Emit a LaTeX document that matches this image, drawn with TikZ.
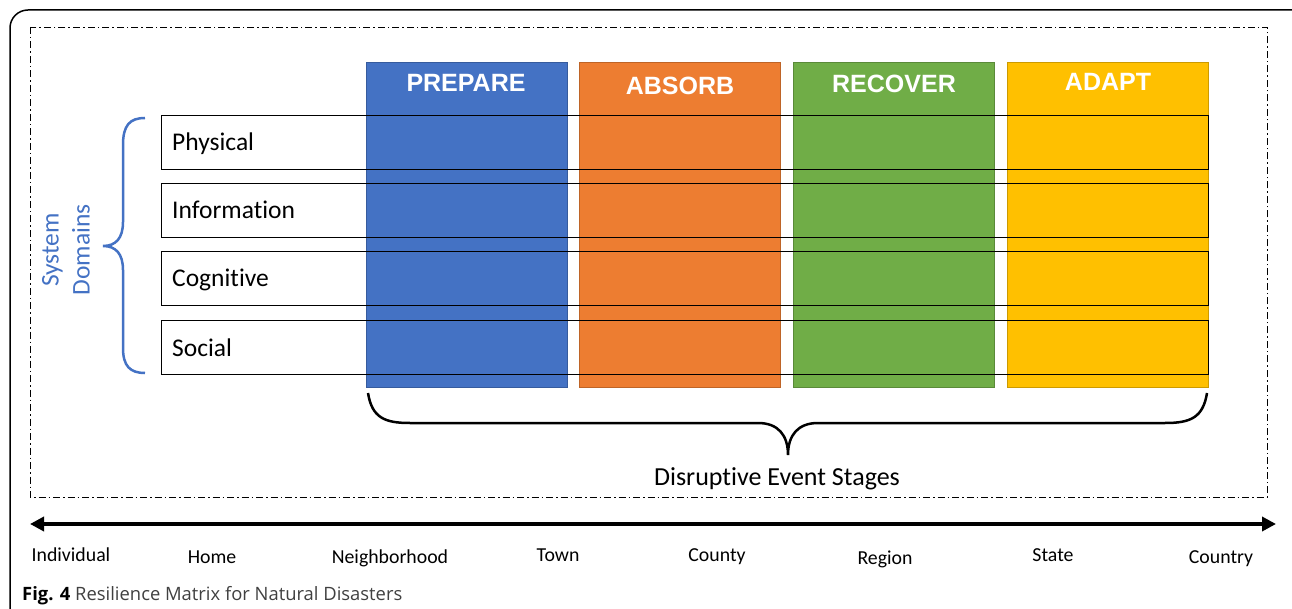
\documentclass[tikz,border=0pt]{standalone}
\usepackage{fontspec}
\setmainfont{Carlito}[Ligatures=NoCommon]
\newfontfamily\headfont{Liberation Sans}
\newfontfamily\capfont{Open Sans}
\usetikzlibrary{arrows.meta}
\definecolor{prepblue}{HTML}{4472C4}
\definecolor{absorange}{HTML}{ED7D31}
\definecolor{recgreen}{HTML}{70AD47}
\definecolor{adaptgold}{HTML}{FFC000}
\tikzset{
  stagebox/.style={draw=#1!80!black, fill=#1, minimum width=201pt, minimum height=325pt, anchor=north west, inner sep=0pt},
  stagename/.style={text=white, inner sep=0pt, font=\headfont\bfseries\fontsize{25}{30}\selectfont},
  domainrow/.style={draw, line width=1.2pt, minimum width=1047pt, minimum height=54pt, anchor=north west, inner sep=0pt},
  domainname/.style={anchor=base west, inner sep=0pt, font=\fontsize{25.5}{30}\selectfont},
  levelname/.style={anchor=base, inner sep=0pt, font=\fontsize{19.8}{23}\selectfont},
}
\begin{document}
\begin{tikzpicture}[x=1pt, y=-1pt]
    \clip (0,0) rectangle (1292,609);
    \draw[line width=1.5pt, rounded corners=18pt] (10,10) rectangle (1310,640);
    \draw[line width=0.9pt, dash pattern=on 7pt off 3pt on 1.5pt off 3pt] (30,27) rectangle (1267,497);

    \node[stagebox=prepblue] (prepare) at (366,62) {};
    \node[stagebox=absorange] (absorb) at (579,62) {};
    \node[stagebox=recgreen] (recover) at (793,62) {};
    \node[stagebox=adaptgold] (adapt) at (1007,62) {};
    \node[stagename] at (466,83) {PREPARE};
    \node[stagename] at (680,86) {ABSORB};
    \node[stagename] at (894,84) {RECOVER};
    \node[stagename] at (1108,82) {ADAPT};

    \node[domainrow] (physical) at (161,115) {};
    \node[domainrow] (information) at (161,183) {};
    \node[domainrow] (cognitive) at (161,251) {};
    \node[domainrow] (social) at (161,320) {};
    \node[domainname] at (172,151) {Physical};
    \node[domainname] at (172,219) {Information};
    \node[domainname] at (172,287) {Cognitive};
    \node[domainname] at (172,356) {Social};

    \draw[prepblue, line width=2.5pt] (145,118) .. controls (130,118) and (123,125) .. (123,145) -- (123,222)
        .. controls (123,238) and (116,246) .. (103,246) .. controls (116,246) and (123,254) .. (123,270)
        -- (123,348) .. controls (123,366) and (130,373) .. (145,373);
    \node[rotate=90, align=center, text=prepblue, inner sep=0pt, font=\fontsize{25.5}{31}\selectfont] (domains) at (66,250) {System\\Domains};

    \draw[line width=2.5pt] (368,393) .. controls (372,418) and (385,423) .. (410,423) -- (758,423)
        .. controls (778,423) and (788,435) .. (788,455) .. controls (788,435) and (798,423) .. (818,423)
        -- (1165,423) .. controls (1190,423) and (1203,418) .. (1207,393);
    \node[anchor=base, inner sep=0pt, font=\fontsize{26}{30}\selectfont] (stages) at (777,485) {Disruptive Event Stages};

    \coordinate (small) at (30,524);
    \coordinate (large) at (1276,524);
    \draw[line width=4pt, {Triangle[length=14pt,width=14pt]}-{Triangle[length=14pt,width=14pt]}] (small) -- (large);

    \node[levelname] at (71,561) {Individual};
    \node[levelname] at (212,563) {Home};
    \node[levelname] at (390,563) {Neighborhood};
    \node[levelname] at (558,561) {Town};
    \node[levelname] at (717,561) {County};
    \node[levelname] at (885,564) {Region};
    \node[levelname] at (1053,561) {State};
    \node[levelname] at (1221,563) {Country};

    \node[anchor=base west, inner sep=0pt, text=black!75, font=\capfont\fontsize{18.4}{22}\selectfont] (caption) at (22,600) {\textcolor{black}{\bfseries Fig. 4} Resilience Matrix for Natural Disasters};
\end{tikzpicture}
\end{document}
